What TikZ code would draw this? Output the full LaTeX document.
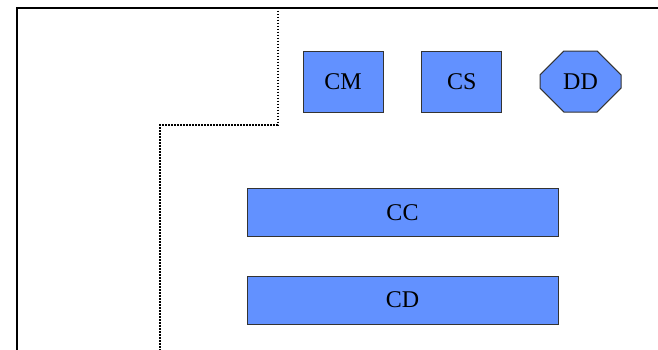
\documentclass[tikz,border=0pt]{standalone}
\usepackage{fontspec}
\setmainfont{Liberation Serif}
\usetikzlibrary{shapes.misc}

\definecolor{unitblue}{RGB}{98,145,255}

\tikzset{
    unit/.style = {draw = black!80, line width = .5pt, fill = unitblue, inner sep = 0pt,
                   font = \fontsize{12}{14}\selectfont},
    smallunit/.style = {unit, minimum width = 40pt, minimum height = 30.5pt},
    wideunit/.style = {unit, minimum width = 155.5pt, minimum height = 24pt},
}

\begin{document}
\begin{tikzpicture}[x = .5pt, y = -.5pt]
    \clip (0, 0) rectangle (658, 349);
    \fill [white] (0, 0) rectangle (658, 349);

    % outer frame, runs off to the right and bottom
    \draw [line width = 1pt] (17, 360) -- (17, 7.5) -- (670, 7.5);

    % dotted boundary
    \draw [line width = 1pt, dash pattern = on .8pt off .7pt]
        (277.5, 7.5) -- (277.5, 125) -- (160, 125) -- (160, 360);

    %%%%%%%%%%%%%%%%%%%%
    \node [smallunit] (cm) at (343, 81.5) {CM};
    \node [smallunit] (cs) at (461.7, 81.5) {CS};
    \node [smallunit, chamfered rectangle, chamfered rectangle xsep = 9pt,
           chamfered rectangle ysep = 8pt, minimum width = 40.5pt] (dd) at (580.5, 81.5) {DD};

    \node [wideunit] (cc) at (402.5, 212.5) {CC};
    \node [wideunit] (cd) at (402.5, 300) {CD};
\end{tikzpicture}
\end{document}
